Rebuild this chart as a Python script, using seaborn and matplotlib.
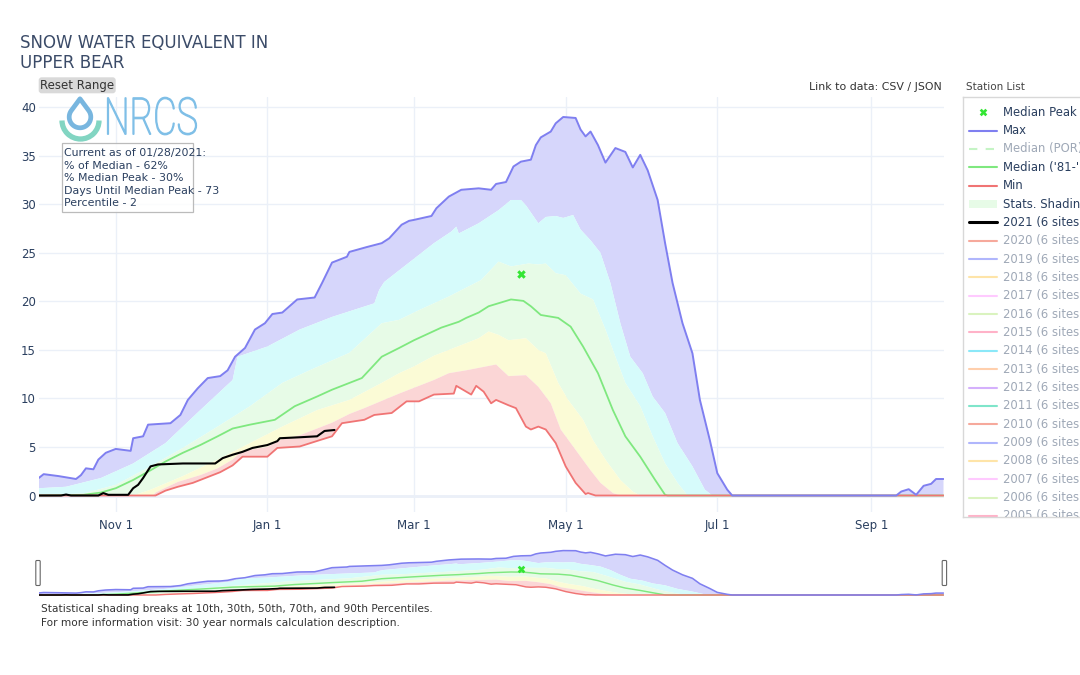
import numpy as np
import pandas as pd
import matplotlib
matplotlib.use("Agg")
import matplotlib.pyplot as plt
import matplotlib.dates as mdates
from matplotlib.patches import FancyBboxPatch, Rectangle, PathPatch, Polygon, Arc
from matplotlib.textpath import TextPath
from matplotlib.font_manager import FontProperties
from matplotlib.transforms import Affine2D
import seaborn as sns

# ---------------- data ----------------
max_dates = ["2020-10-01", "2020-10-03", "2020-10-09", "2020-10-16", "2020-10-18", "2020-10-20",
             "2020-10-23", "2020-10-25", "2020-10-28", "2020-11-01", "2020-11-07", "2020-11-08",
             "2020-11-12", "2020-11-14", "2020-11-23", "2020-11-27", "2020-11-30", "2020-12-04",
             "2020-12-08", "2020-12-13", "2020-12-16", "2020-12-19", "2020-12-23", "2020-12-27",
             "2020-12-31", "2021-01-03", "2021-01-07", "2021-01-13", "2021-01-20", "2021-01-23",
             "2021-01-27", "2021-02-02", "2021-02-03", "2021-02-10", "2021-02-16", "2021-02-19",
             "2021-02-24", "2021-02-27", "2021-03-01", "2021-03-08", "2021-03-10", "2021-03-15",
             "2021-03-20", "2021-03-27", "2021-04-01", "2021-04-03", "2021-04-07", "2021-04-10",
             "2021-04-13", "2021-04-17", "2021-04-19", "2021-04-21", "2021-04-25", "2021-04-27",
             "2021-04-30", "2021-05-05", "2021-05-07", "2021-05-09", "2021-05-11", "2021-05-14",
             "2021-05-17", "2021-05-21", "2021-05-25", "2021-05-28", "2021-05-31", "2021-06-03",
             "2021-06-07", "2021-06-10", "2021-06-13", "2021-06-17", "2021-06-21", "2021-06-24",
             "2021-06-28", "2021-07-01", "2021-07-05", "2021-07-07", "2021-09-11", "2021-09-13",
             "2021-09-16", "2021-09-19", "2021-09-22", "2021-09-25", "2021-09-27", "2021-09-30"]
max_vals = [1.8, 2.2, 2.0, 1.7, 2.1, 2.8, 2.7, 3.7, 4.4, 4.8, 4.6, 5.9, 6.1, 7.3, 7.45, 8.3, 9.85,
            11.05, 12.1, 12.3, 12.9, 14.3, 15.2, 17.1, 17.75, 18.7, 18.85, 20.2, 20.4, 21.9, 24.0,
            24.6, 25.1, 25.6, 26.0, 26.5, 27.9, 28.3, 28.4, 28.8, 29.6, 30.8, 31.5, 31.65, 31.5,
            32.1, 32.3, 33.9, 34.4, 34.6, 36.1, 36.9, 37.5, 38.35, 39.0, 38.9, 37.7, 37.0, 37.5,
            36.1, 34.3, 35.8, 35.4, 33.8, 35.1, 33.5, 30.45, 26.0, 21.9, 17.75, 14.65, 9.85, 5.7,
            2.3, 0.6, 0.0, 0.0, 0.41, 0.65, 0.07, 1.0, 1.2, 1.7, 1.7]

p90_dates = ["2020-10-01", "2020-10-12", "2020-10-26", "2020-11-08", "2020-11-21", "2020-12-05",
             "2020-12-18", "2020-12-20", "2021-01-01", "2021-01-14", "2021-01-27", "2021-02-13",
             "2021-02-15", "2021-02-17", "2021-02-23", "2021-03-04", "2021-03-09", "2021-03-16",
             "2021-03-18", "2021-03-19", "2021-03-27", "2021-04-04", "2021-04-09", "2021-04-13",
             "2021-04-15", "2021-04-20", "2021-04-23", "2021-04-27", "2021-04-30", "2021-05-04",
             "2021-05-07", "2021-05-11", "2021-05-15", "2021-05-19", "2021-05-23", "2021-05-27",
             "2021-06-01", "2021-06-05", "2021-06-10", "2021-06-15", "2021-06-21", "2021-06-26",
             "2021-06-29", "2021-09-30"]
p90_vals = [0.75, 0.9, 1.8, 3.3, 5.4, 8.8, 11.9, 14.3, 15.35, 17.1, 18.4, 19.8, 21.2, 22.0, 23.2,
            25.0, 26.0, 27.2, 27.7, 27.0, 28.05, 29.4, 30.45, 30.45, 29.9, 28.05, 28.7, 28.8, 28.6,
            28.9, 27.4, 26.3, 25.0, 21.9, 17.75, 14.3, 12.6, 10.2, 8.5, 5.4, 3.0, 0.6, 0.0, 0.0]

p70_dates = ["2020-10-01", "2020-10-19", "2020-11-01", "2020-11-15", "2020-11-28", "2020-12-12",
             "2020-12-25", "2021-01-07", "2021-01-18", "2021-02-03", "2021-02-16", "2021-02-23",
             "2021-03-03", "2021-03-15", "2021-03-28", "2021-04-04", "2021-04-09", "2021-04-16",
             "2021-04-20", "2021-04-23", "2021-04-27", "2021-05-01", "2021-05-07", "2021-05-12",
             "2021-05-17", "2021-05-21", "2021-05-25", "2021-05-31", "2021-06-05", "2021-06-10",
             "2021-06-15", "2021-06-19", "2021-09-30"]
p70_vals = [0.05, 0.2, 1.1, 3.0, 4.9, 7.1, 9.2, 11.6, 12.9, 14.7, 17.75, 18.1, 19.1, 20.5, 22.2,
            24.1, 23.6, 23.9, 23.8, 23.9, 22.9, 22.7, 20.8, 20.2, 17.1, 14.3, 11.6, 9.2, 6.1, 3.3,
            1.3, 0.0, 0.0]

med_dates = ["2020-10-01", "2020-10-19", "2020-10-26", "2020-11-01", "2020-11-08", "2020-11-15",
             "2020-11-21", "2020-11-28", "2020-12-05", "2020-12-12", "2020-12-18", "2020-12-25",
             "2021-01-04", "2021-01-12", "2021-01-21", "2021-01-27", "2021-02-08", "2021-02-16",
             "2021-02-23", "2021-03-01", "2021-03-12", "2021-03-19", "2021-03-22", "2021-03-27",
             "2021-03-31", "2021-04-09", "2021-04-14", "2021-04-17", "2021-04-21", "2021-04-28",
             "2021-05-03", "2021-05-08", "2021-05-14", "2021-05-20", "2021-05-25", "2021-05-31",
             "2021-06-06", "2021-06-10", "2021-06-11", "2021-09-30"]
med_vals = [0.0, 0.07, 0.3, 0.75, 1.6, 2.6, 3.5, 4.4, 5.2, 6.1, 6.9, 7.3, 7.8, 9.2, 10.2, 10.9,
            12.1, 14.3, 15.2, 16.0, 17.3, 17.9, 18.3, 18.85, 19.5, 20.2, 20.05, 19.5, 18.6, 18.3,
            17.4, 15.35, 12.6, 8.8, 6.1, 4.0, 1.6, 0.07, 0.0, 0.0]

p30_dates = ["2020-10-01", "2020-11-08", "2020-11-15", "2020-11-28", "2020-12-12", "2020-12-25",
             "2021-01-07", "2021-01-21", "2021-02-03", "2021-02-16", "2021-02-23", "2021-03-01",
             "2021-03-09", "2021-03-15", "2021-03-22", "2021-03-27", "2021-03-31", "2021-04-04",
             "2021-04-08", "2021-04-15", "2021-04-20", "2021-04-23", "2021-04-28", "2021-05-02",
             "2021-05-08", "2021-05-12", "2021-05-17", "2021-05-23", "2021-05-28", "2021-05-31",
             "2021-09-30"]
p30_vals = [0.0, 0.0, 0.6, 2.0, 3.7, 5.4, 7.1, 8.8, 9.85, 11.6, 12.6, 13.3, 14.4, 15.0, 15.7, 16.2,
            16.9, 16.55, 16.0, 16.2, 15.0, 14.65, 11.6, 9.85, 7.8, 5.7, 3.7, 1.6, 0.4, 0.0, 0.0]

p10_dates = ["2020-10-01", "2020-11-16", "2020-11-17", "2020-11-21", "2020-11-26", "2020-12-05",
             "2020-12-12", "2020-12-18", "2020-12-22", "2021-01-01", "2021-01-07", "2021-01-14",
             "2021-01-21", "2021-01-27", "2021-02-03", "2021-02-09", "2021-02-23", "2021-03-09",
             "2021-03-15", "2021-03-22", "2021-03-30", "2021-04-03", "2021-04-08", "2021-04-15",
             "2021-04-20", "2021-04-25", "2021-04-29", "2021-05-05", "2021-05-11", "2021-05-15",
             "2021-05-20", "2021-05-23", "2021-09-30"]
p10_vals = [0.0, 0.0, 0.3, 0.8, 1.4, 2.1, 2.8, 3.7, 4.6, 5.0, 5.8, 6.2, 6.9, 7.5, 8.4, 9.0, 10.5,
            11.9, 12.6, 12.9, 13.3, 13.5, 12.3, 12.4, 11.2, 9.5, 6.8, 4.7, 2.6, 1.3, 0.25, 0.0, 0.0]

min_dates = ["2020-10-01", "2020-11-17", "2020-11-21", "2020-11-26", "2020-12-02", "2020-12-07",
             "2020-12-13", "2020-12-18", "2020-12-22", "2021-01-01", "2021-01-05", "2021-01-14",
             "2021-01-22", "2021-01-27", "2021-01-31", "2021-02-09", "2021-02-13", "2021-02-20",
             "2021-02-26", "2021-03-03", "2021-03-09", "2021-03-17", "2021-03-18", "2021-03-24",
             "2021-03-26", "2021-03-29", "2021-04-01", "2021-04-03", "2021-04-08", "2021-04-11",
             "2021-04-15", "2021-04-17", "2021-04-20", "2021-04-23", "2021-04-27", "2021-05-01",
             "2021-05-05", "2021-05-09", "2021-05-10", "2021-05-13", "2021-09-30"]
min_vals = [0.0, 0.0, 0.5, 0.9, 1.3, 1.8, 2.4, 3.1, 4.0, 4.0, 4.9, 5.05, 5.7, 6.1, 7.45, 7.8, 8.3,
            8.5, 9.7, 9.7, 10.4, 10.5, 11.3, 10.4, 11.3, 10.7, 9.5, 9.85, 9.3, 9.0, 7.1, 6.8, 7.1,
            6.8, 5.4, 3.0, 1.3, 0.15, 0.25, 0.0, 0.0]

wy2021_dates = ["2020-10-01", "2020-10-10", "2020-10-12", "2020-10-14", "2020-10-25", "2020-10-27",
                "2020-10-29", "2020-11-06", "2020-11-08", "2020-11-10", "2020-11-12", "2020-11-14",
                "2020-11-15", "2020-11-18", "2020-11-28", "2020-12-11", "2020-12-14", "2020-12-18",
                "2020-12-22", "2020-12-26", "2021-01-01", "2021-01-05", "2021-01-06", "2021-01-14",
                "2021-01-21", "2021-01-24", "2021-01-28"]
wy2021_vals = [0.0, 0.0, 0.1, 0.0, 0.0, 0.25, 0.07, 0.07, 0.75, 1.1, 1.8, 2.6, 3.0, 3.2, 3.3, 3.3,
               3.85, 4.2, 4.5, 4.9, 5.2, 5.6, 5.9, 6.0, 6.1, 6.65, 6.75]

median_peak_date = ["2021-04-13"]
median_peak_val = [22.8]

x_range = ["2020-10-01", "2021-09-30"]
tick_dates = ["2020-11-01", "2021-01-01", "2021-03-01", "2021-05-01", "2021-07-01", "2021-09-01"]
tick_labels = ["Nov 1", "Jan 1", "Mar 1", "May 1", "Jul 1", "Sep 1"]
y_ticks = [0, 5, 10, 15, 20, 25, 30, 35, 40]

info_lines = ["Current as of 01/28/2021:", "% of Median - 62%", "% Median Peak - 30%",
              "Days Until Median Peak - 73", "Percentile - 2"]
legend_active = ["Median Peak", "Max", "Median (POR)", "Median ('81-'10)", "Min",
                 "Stats. Shading", "2021 (6 sites)"]
legend_years = ["2020", "2019", "2018", "2017", "2016", "2015", "2014", "2013", "2012", "2011",
                "2010", "2009", "2008", "2007", "2006", "2005"]
year_colors = ["#EF553B", "#636EFA", "#FECB52", "#FF97FF", "#B6E880", "#FF6692", "#19D3F3",
               "#FFA15A", "#AB63FA", "#00CC96", "#EF553B", "#636EFA", "#FECB52", "#FF97FF",
               "#B6E880", "#FF6692"]

# ---------------- styling ----------------
sns.set_theme(style="white")
plt.rcParams["font.family"] = ["DejaVu Sans"]

C_MAX = "#7f7ff0"
C_MED = "#7fe87f"
C_MIN = "#f07474"
C_TXT = "#2a3f5f"
BAND = {"purple": "#d6d6fb", "cyan": "#d6fbfb", "green": "#e7fbe7",
        "yellow": "#fbfbd6", "pink": "#fbd6d6"}


def frame(d, v):
    return pd.DataFrame({"date": pd.to_datetime(d), "swe": np.asarray(v, dtype=float)})


mx = frame(max_dates, max_vals)
p90 = frame(p90_dates, p90_vals)
p70 = frame(p70_dates, p70_vals)
med = frame(med_dates, med_vals)
p30 = frame(p30_dates, p30_vals)
p10 = frame(p10_dates, p10_vals)
mn = frame(min_dates, min_vals)
cur = frame(wy2021_dates, wy2021_vals)
peak = frame(median_peak_date, median_peak_val)

W, H = 1080, 675
fig = plt.figure(figsize=(10.8, 6.75), dpi=100)
fig.patch.set_facecolor("white")


def fax(x0, y0, x1, y1):
    return [x0 / W, 1 - y1 / H, (x1 - x0) / W, (y1 - y0) / H]


def band(a, up, lo, color):
    x = np.concatenate([mdates.date2num(up["date"]), mdates.date2num(lo["date"])[::-1]])
    y = np.concatenate([up["swe"].values, lo["swe"].values[::-1]])
    a.fill(x, y, color=color, lw=0, zorder=1)


def draw_all(a, lw_scale=1.0, marker_size=38):
    band(a, mx, p90, BAND["purple"])
    band(a, p90, p70, BAND["cyan"])
    band(a, p70, p30, BAND["green"])
    band(a, p30, p10, BAND["yellow"])
    band(a, p10, mn, BAND["pink"])
    sns.lineplot(data=med, x="date", y="swe", ax=a, color=C_MED, linewidth=1.3 * lw_scale,
                 estimator=None, zorder=3)
    sns.lineplot(data=mn, x="date", y="swe", ax=a, color=C_MIN, linewidth=1.3 * lw_scale,
                 estimator=None, zorder=3)
    sns.lineplot(data=mx, x="date", y="swe", ax=a, color=C_MAX, linewidth=1.4 * lw_scale,
                 estimator=None, zorder=4)
    sns.lineplot(data=cur, x="date", y="swe", ax=a, color="black", linewidth=1.5 * lw_scale,
                 estimator=None, zorder=5)
    sns.scatterplot(data=peak, x="date", y="swe", ax=a, marker="X", color="#33e633",
                    s=marker_size, linewidth=0, zorder=6)
    a.set_xlim(pd.to_datetime(x_range[0]), pd.to_datetime(x_range[1]))
    a.set_xlabel("")
    a.set_ylabel("")


# ---------------- main chart ----------------
ax = fig.add_axes(fax(38.7, 97, 943.5, 512))
ax.set_facecolor("white")
ax.axhline(0, color="#ebf0f8", lw=2, zorder=0.5)
draw_all(ax)
ax.set_ylim(-1.7, 41.06)
ax.set_yticks(y_ticks)
ax.set_yticklabels([str(v) for v in y_ticks])
ax.set_xticks(pd.to_datetime(tick_dates))
ax.set_xticklabels(tick_labels)
ax.grid(True, color="#ebf0f8", lw=1)
ax.set_axisbelow(True)
for s in ax.spines.values():
    s.set_visible(False)
ax.tick_params(axis="both", length=0, labelsize=8.5, labelcolor=C_TXT)
ax.tick_params(axis="y", pad=2)
ax.tick_params(axis="x", pad=5)

# ---------------- range slider ----------------
sl = fig.add_axes(fax(38.7, 545, 943.5, 597))
draw_all(sl, lw_scale=0.8, marker_size=30)
sl.set_ylim(-1.75, 43.9)
sl.axis("off")

# ---------------- overlay (titles, logo, boxes) ----------------
ov = fig.add_axes([0, 0, 1, 1])
ov.set_xlim(0, W)
ov.set_ylim(H, 0)
ov.axis("off")
ov.patch.set_alpha(0)
ov.set_zorder(10)

ov.text(20, 48.5, "SNOW WATER EQUIVALENT IN", fontsize=12, color="#3b4b68", va="baseline")
ov.text(20, 68.5, "UPPER BEAR", fontsize=12, color="#3b4b68", va="baseline")

ov.add_patch(FancyBboxPatch((38.7, 77.3), 77, 16, boxstyle="round,pad=0,rounding_size=3",
                            fc="#d9d9d9", ec="none"))
ov.text(77.2, 85.6, "Reset Range", fontsize=8.5, color="#333333", ha="center", va="center")

ov.text(942, 87.5, "Link to data: CSV / JSON", fontsize=7.9, color="#333333",
        ha="right", va="center")
ov.text(965.5, 87.5, "Station List", fontsize=7.5, color="#444444", ha="left", va="center")

# NRCS logo
cx, cy, r = 80.0, 117.0, 10.8
apex = np.array([80.0, 98.8])
ang_t = np.degrees(np.arccos(r / (cy - apex[1])))
phi = np.radians(np.linspace(-90 + ang_t, 270 - ang_t, 60))
drop_pts = np.vstack([apex, np.column_stack([cx + r * np.cos(phi), cy + r * np.sin(phi)])])
ov.add_patch(Polygon(drop_pts, closed=True, fc="white", ec="#78b6df", lw=3.4, joinstyle="round"))
ov.add_patch(Arc((80.5, 120.5), 37, 37, theta1=0, theta2=180, color="#82d5c2", lw=3.8))
fp = FontProperties(family=["Roboto", "Lato", "Open Sans", "DejaVu Sans"], weight=200)
tp = TextPath((0, 0), "NRCS", size=1, prop=fp)
bb = tp.get_extents()
sx = 89.0 / bb.width
sy = 37.5 / bb.height
tr = Affine2D().translate(-bb.x0, -bb.y0).scale(sx, -sy).translate(107.5, 134.8) + ov.transData
ov.add_patch(PathPatch(tp, transform=tr, fc="#7fbfe7", ec="#7fbfe7", lw=0.9))

# info box
ov.add_patch(Rectangle((61.5, 143), 131, 69, fc="white", ec="#b0b0b0", lw=0.9, alpha=0.85))
for i, line in enumerate(info_lines):
    ov.text(64, 153.2 + 12.5 * i, line, fontsize=7.9, color=C_TXT, va="center")

# slider handles
for hx in (35.8, 942.2):
    ov.add_patch(FancyBboxPatch((hx, 560.5), 4.4, 25, boxstyle="round,pad=0,rounding_size=1",
                                fc="white", ec="#666666", lw=0.8))

ov.text(41, 609.5, "Statistical shading breaks at 10th, 30th, 50th, 70th, and 90th Percentiles.",
        fontsize=7.6, color="#333333", va="center")
ov.text(41, 623.5, "For more information visit: 30 year normals calculation description.",
        fontsize=7.6, color="#333333", va="center")

# ---------------- legend panel ----------------
lg = fig.add_axes(fax(963, 97.3, 1200, 516.7))
lg.set_xlim(963, 1200)
lg.set_ylim(516.7, 97.3)
lg.set_xticks([])
lg.set_yticks([])
for s in lg.spines.values():
    s.set_color("#d8d8d8")
    s.set_linewidth(1)
lg.set_facecolor("white")

row0, dy = 112.3, 18.35
x0s, x1s, xt = 969, 997, 1003


def leg_text(i, label, active=True):
    lg.text(xt, row0 + dy * i, label, fontsize=8.4, color=C_TXT, alpha=1.0 if active else 0.45,
            va="center", ha="left", clip_on=True)


# Median Peak
lg.scatter([983], [row0], marker="X", s=30, color="#33e633", linewidths=0)
leg_text(0, legend_active[0])
lg.plot([x0s, x1s], [row0 + dy, row0 + dy], color=C_MAX, lw=1.5)
leg_text(1, legend_active[1])
lg.plot([x0s, x1s], [row0 + 2 * dy] * 2, color=C_MED, lw=1.5, alpha=0.45, dashes=(4, 4))
leg_text(2, legend_active[2], active=False)
lg.plot([x0s, x1s], [row0 + 3 * dy] * 2, color=C_MED, lw=1.5)
leg_text(3, legend_active[3])
lg.plot([x0s, x1s], [row0 + 4 * dy] * 2, color=C_MIN, lw=1.5)
leg_text(4, legend_active[4])
lg.add_patch(Rectangle((x0s, row0 + 5 * dy - 4), x1s - x0s, 8, fc=BAND["green"], ec="none"))
leg_text(5, legend_active[5])
lg.plot([x0s, x1s], [row0 + 6 * dy] * 2, color="black", lw=2.2)
leg_text(6, legend_active[6])
for k, (yr, col) in enumerate(zip(legend_years, year_colors)):
    i = 7 + k
    lg.plot([x0s, x1s], [row0 + dy * i] * 2, color=col, lw=1.5, alpha=0.5, clip_on=True)
    leg_text(i, f"{yr} (6 sites)", active=False)

fig.savefig("out.png", dpi=100, facecolor="white")
